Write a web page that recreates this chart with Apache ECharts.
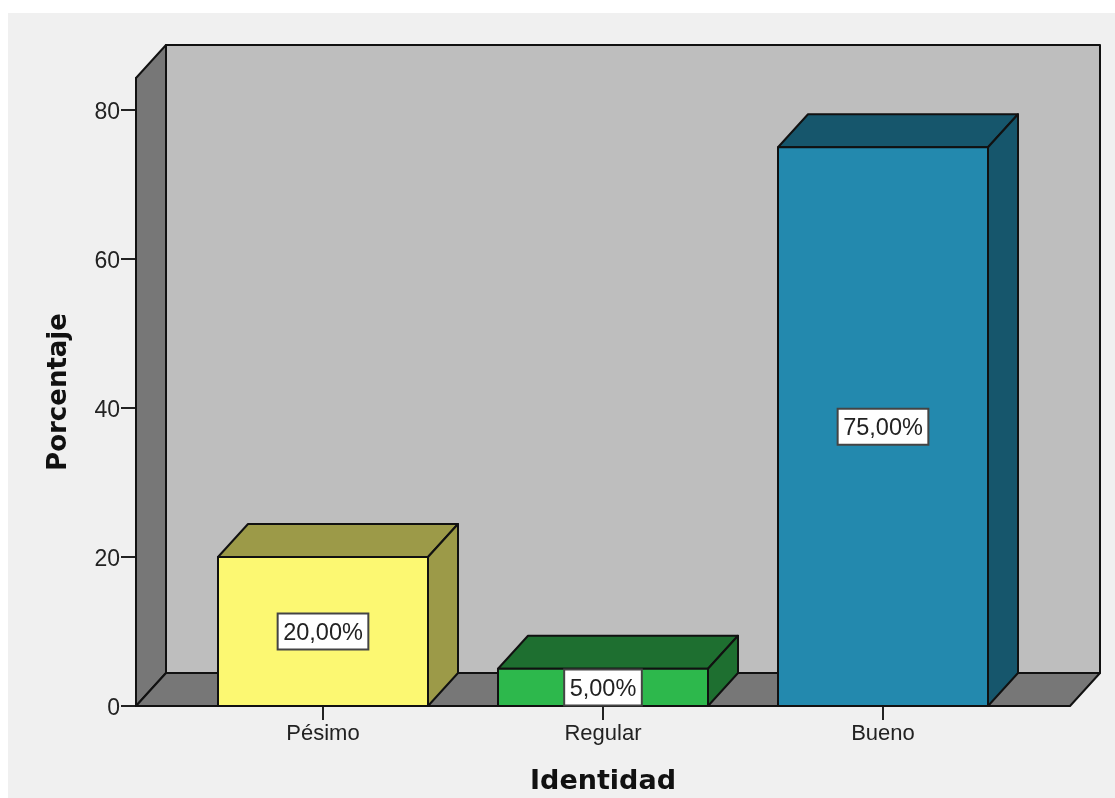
<!DOCTYPE html>
<html>
<head>
<meta charset="utf-8">
<style>
html,body{margin:0;padding:0;background:#fff;width:1115px;height:798px;overflow:hidden}
#bg{position:absolute;left:8px;top:13px;right:0;bottom:0;background:#f0f0f0}
#chart{position:absolute;left:0;top:0;width:1115px;height:798px}
</style>
<script src="https://cdn.jsdelivr.net/npm/echarts@6/dist/echarts.min.js"></script>
</head>
<body>
<div id="bg"></div>
<div id="chart"></div>
<script>
const categories = ['Pésimo', 'Regular', 'Bueno'];
const values = [20, 5, 75];
const faceColors = ['#fcf872', '#2db84c', '#2389ae'];
const shadeColors = ['#9c9a48', '#1e6f30', '#16566c'];
const yTicks = [0, 20, 40, 60, 80];
const yMax = 84.3;
const xTitle = 'Identidad';
const yTitle = 'Porcentaje';

const DX = 30, DY = 33, OVER = 47, BAR = 0.75, LINE = '#111', LW = 2;
const LABEL_FONT = '23.5px "Liberation Sans"';
const measure = document.createElement('canvas').getContext('2d');
const poly = (points, fill) => ({
  type: 'polygon',
  shape: { points },
  style: { fill, stroke: LINE, lineWidth: LW, lineJoin: 'round' }
});

function renderWalls(params, api) {
  const band = api.size([1, 0])[0];
  const top = api.coord([0, api.value(1)])[1];
  const base = api.coord([0, 0])[1];
  const l = api.coord([0, 0])[0] - band / 2 - OVER;
  const r = api.coord([categories.length - 1, 0])[0] + band / 2 + OVER;
  return {
    type: 'group',
    children: [
      poly([[l + DX, top - DY], [r + DX, top - DY], [r + DX, base - DY], [l + DX, base - DY]], '#bebebe'),
      poly([[l, top], [l + DX, top - DY], [l + DX, base - DY], [l, base]], '#777777'),
      poly([[l, base], [l + DX, base - DY], [r + DX, base - DY], [r, base]], '#777777')
    ]
  };
}

function renderBar(params, api) {
  const i = params.dataIndex;
  const v = api.value(1);
  const [cx, yt] = api.coord([api.value(0), v]);
  const yb = api.coord([api.value(0), 0])[1];
  const w = api.size([1, 0])[0] * BAR;
  const l = cx - w / 2, r = cx + w / 2;
  const cy = (yt + yb) / 2;
  const text = v.toFixed(2).replace('.', ',') + '%';
  measure.font = LABEL_FONT;
  const boxW = measure.measureText(text).width + 11;
  const boxH = 36;
  return {
    type: 'group',
    children: [
      poly([[l, yt], [l + DX, yt - DY], [r + DX, yt - DY], [r, yt]], shadeColors[i]),
      poly([[r, yt], [r + DX, yt - DY], [r + DX, yb - DY], [r, yb]], shadeColors[i]),
      poly([[l, yt], [r, yt], [r, yb], [l, yb]], faceColors[i]),
      {
        type: 'rect',
        z2: 9,
        shape: { x: cx - boxW / 2, y: cy - boxH / 2, width: boxW, height: boxH },
        style: { fill: '#fff', stroke: '#444', lineWidth: 2 }
      },
      {
        type: 'text',
        z2: 10,
        style: {
          x: cx, y: cy + 2,
          text,
          align: 'center', verticalAlign: 'middle',
          font: LABEL_FONT,
          fill: '#222'
        }
      }
    ]
  };
}

const chart = echarts.init(document.getElementById('chart'), null, { renderer: 'canvas' });
chart.setOption({
  animation: false,
  backgroundColor: 'transparent',
  grid: { left: 183, right: 92, top: 78, bottom: 92, outerBoundsMode: 'none' },
  xAxis: {
    type: 'category',
    data: categories,
    name: xTitle,
    nameLocation: 'middle',
    nameGap: 62,
    nameTextStyle: { fontFamily: 'DejaVu Sans', fontWeight: 'bold', fontSize: 27, color: '#111' },
    axisLine: { show: false },
    axisTick: { show: true, alignWithLabel: true, length: 14, lineStyle: { color: '#222', width: 2 } },
    axisLabel: { margin: 17, fontFamily: 'Liberation Sans', fontSize: 22, color: '#222' },
    splitLine: { show: false }
  },
  yAxis: {
    type: 'value',
    min: 0,
    max: yMax,
    offset: OVER,
    name: yTitle,
    nameLocation: 'middle',
    nameGap: 64,
    nameTextStyle: { fontFamily: 'DejaVu Sans', fontWeight: 'bold', fontSize: 26, color: '#111' },
    axisLine: { show: true, lineStyle: { color: LINE, width: 2 } },
    axisTick: { show: true, length: 15, customValues: yTicks, lineStyle: { color: '#222', width: 2 } },
    axisLabel: { margin: 16, verticalAlign: 'top', lineHeight: 6, customValues: yTicks, fontFamily: 'Liberation Sans', fontSize: 23, color: '#222' },
    splitLine: { show: false }
  },
  series: [
    { type: 'custom', z: 1, silent: true, renderItem: renderWalls, data: [[0, yMax]] },
    { type: 'custom', z: 3, silent: true, renderItem: renderBar, data: values.map((v, i) => [i, v]) }
  ]
});
</script>
</body>
</html>
